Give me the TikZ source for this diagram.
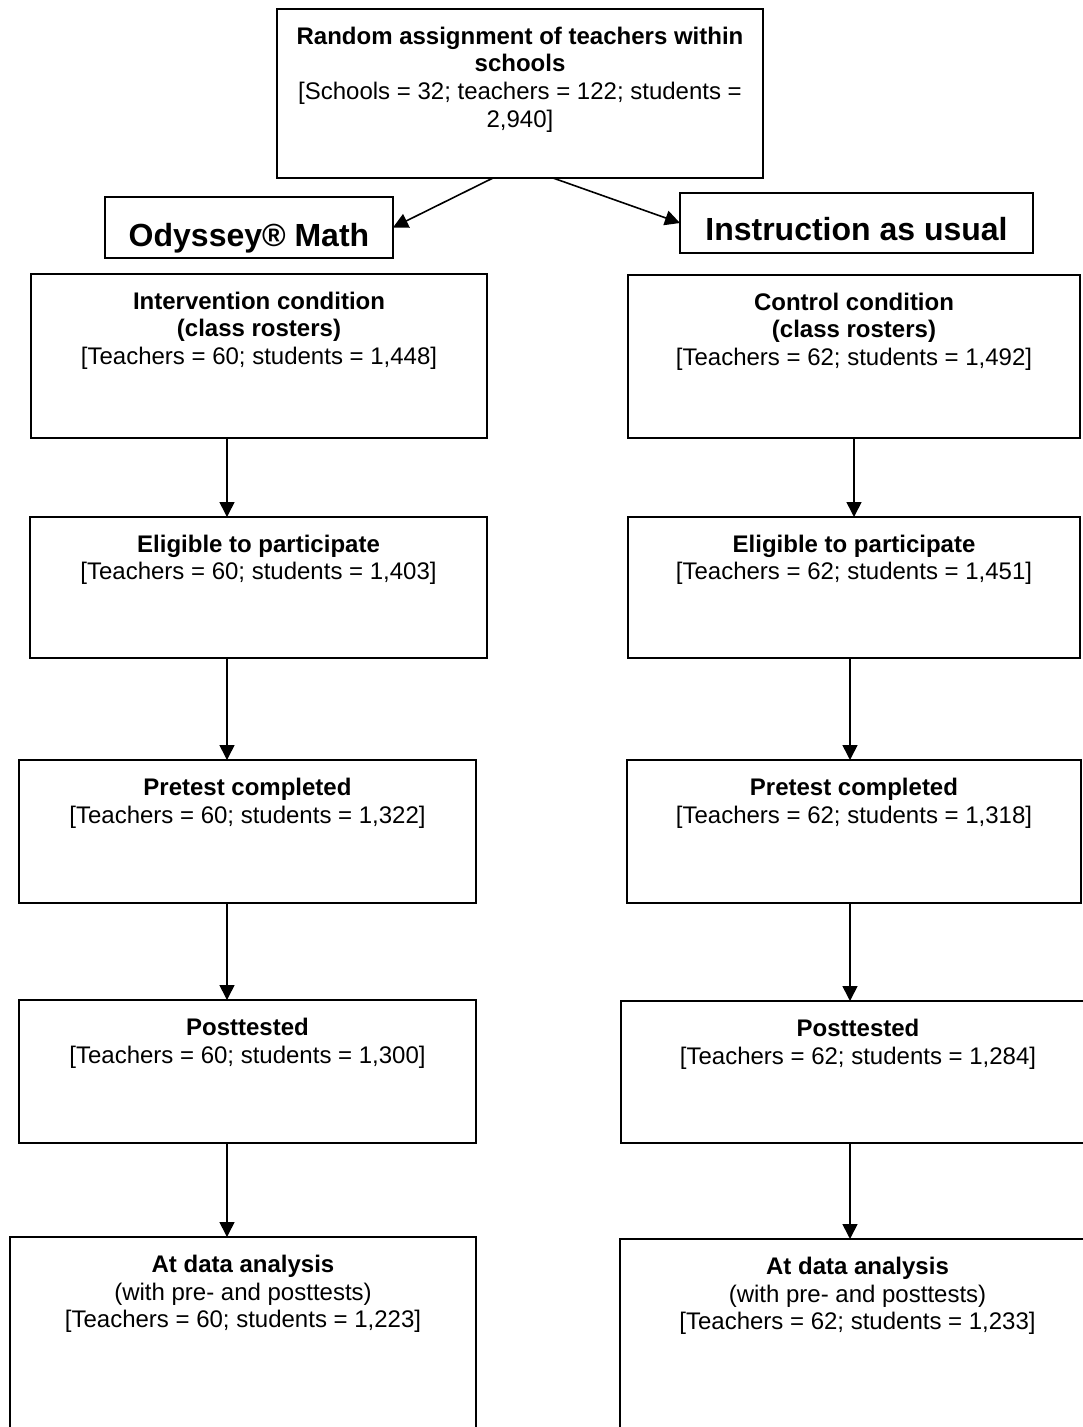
\documentclass[tikz,border=0pt]{standalone}
\usepackage{fontspec}
\setmainfont{Liberation Sans}
\usetikzlibrary{arrows.meta,calc}
\begin{document}
\begin{tikzpicture}[x=1pt,y=-1pt,
 box/.style={draw, line width=1.6pt, inner sep=0pt, outer sep=0pt, rectangle},
 txt/.style={inner sep=0pt, outer sep=0pt, align=center, font=\fontsize{24}{27.6}\selectfont, anchor=north},
 big/.style={inner sep=0pt, outer sep=0pt, font=\fontsize{32}{36}\selectfont\bfseries, anchor=base},
 arr/.style={line width=1.6pt, -{Triangle[length=15pt,width=15pt]}}]
\useasboundingbox (0,0) rectangle (1083,1427);
\clip (0,0) rectangle (1083,1427);
\fill[white] (0,0) rectangle (1083,1427);
% boxes
\node[box, minimum width=486pt, minimum height=169pt] (top) at (520,93.5) {};
\node[box, minimum width=288pt, minimum height=61pt] (ody) at (249,227.5) {};
\node[box, minimum width=353pt, minimum height=60pt] (ins) at (856.5,223) {};
\node[box, minimum width=456pt, minimum height=164pt] (int) at (259,356) {};
\node[box, minimum width=452pt, minimum height=163pt] (ctl) at (854,356.5) {};
\node[box, minimum width=457pt, minimum height=141pt] (eligL) at (258.5,587.5) {};
\node[box, minimum width=452pt, minimum height=141pt] (eligR) at (854,587.5) {};
\node[box, minimum width=457pt, minimum height=143pt] (preL) at (247.5,831.5) {};
\node[box, minimum width=454pt, minimum height=143pt] (preR) at (854,831.5) {};
\node[box, minimum width=457pt, minimum height=143pt] (postL) at (247.5,1071.5) {};
\node[box, minimum width=474pt, minimum height=142pt] (postR) at (858,1072) {};
\node[box, minimum width=466pt, minimum height=213pt] (anaL) at (243,1343.5) {};
\node[box, minimum width=475pt, minimum height=211pt] (anaR) at (857.5,1344.5) {};
% texts
\node[txt] (topT) at ([yshift=-18pt]top.north) {\textbf{Random assignment of teachers within}\\\textbf{schools}\\{[Schools = 32; teachers = 122; students =}\\2,940]};
\node[big] (odyT) at ($(ody.center)+(0,18.5)$) {Odyssey® Math};
\node[big] (insT) at ($(ins.center)+(0,17)$) {Instruction as usual};
\node[txt] (intT) at ([yshift=-18pt]int.north) {\textbf{Intervention condition}\\\textbf{(class rosters)}\\{[Teachers = 60; students = 1,448]}};
\node[txt] (ctlT) at ([yshift=-18pt]ctl.north) {\textbf{Control condition}\\\textbf{(class rosters)}\\{[Teachers = 62; students = 1,492]}};
\node[txt] (eligLT) at ([yshift=-18pt]eligL.north) {\textbf{Eligible to participate}\\{[Teachers = 60; students = 1,403]}};
\node[txt] (eligRT) at ([yshift=-18pt]eligR.north) {\textbf{Eligible to participate}\\{[Teachers = 62; students = 1,451]}};
\node[txt] (preLT) at ([yshift=-18pt]preL.north) {\textbf{Pretest completed}\\{[Teachers = 60; students = 1,322]}};
\node[txt] (preRT) at ([yshift=-18pt]preR.north) {\textbf{Pretest completed}\\{[Teachers = 62; students = 1,318]}};
\node[txt] (postLT) at ([yshift=-18pt]postL.north) {\textbf{Posttested}\\{[Teachers = 60; students = 1,300]}};
\node[txt] (postRT) at ([yshift=-18pt]postR.north) {\textbf{Posttested}\\{[Teachers = 62; students = 1,284]}};
\node[txt] (anaLT) at ([yshift=-18pt]anaL.north) {\textbf{At data analysis}\\(with pre- and posttests)\\{[Teachers = 60; students = 1,223]}};
\node[txt] (anaRT) at ([yshift=-18pt]anaR.north) {\textbf{At data analysis}\\(with pre- and posttests)\\{[Teachers = 62; students = 1,233]}};
% column coordinates
\coordinate (sA) at (493,0);
\coordinate (sB) at (553,0);
\coordinate (cL) at (227,0);
\coordinate (cR) at (854,0);
\coordinate (cR2) at (850,0);
% connectors
\draw[arr] (top.south -| sA) -- (ody.east);
\draw[arr] (top.south -| sB) -- (ins.west);
\draw[arr] (int.south -| cL) -- (eligL.north -| cL);
\draw[arr] (ctl.south -| cR) -- (eligR.north -| cR);
\draw[arr] (eligL.south -| cL) -- (preL.north -| cL);
\draw[arr] (eligR.south -| cR2) -- (preR.north -| cR2);
\draw[arr] (preL.south -| cL) -- (postL.north -| cL);
\draw[arr] (preR.south -| cR2) -- (postR.north -| cR2);
\draw[arr] (postL.south -| cL) -- (anaL.north -| cL);
\draw[arr] (postR.south -| cR2) -- (anaR.north -| cR2);
\end{tikzpicture}
\end{document}
